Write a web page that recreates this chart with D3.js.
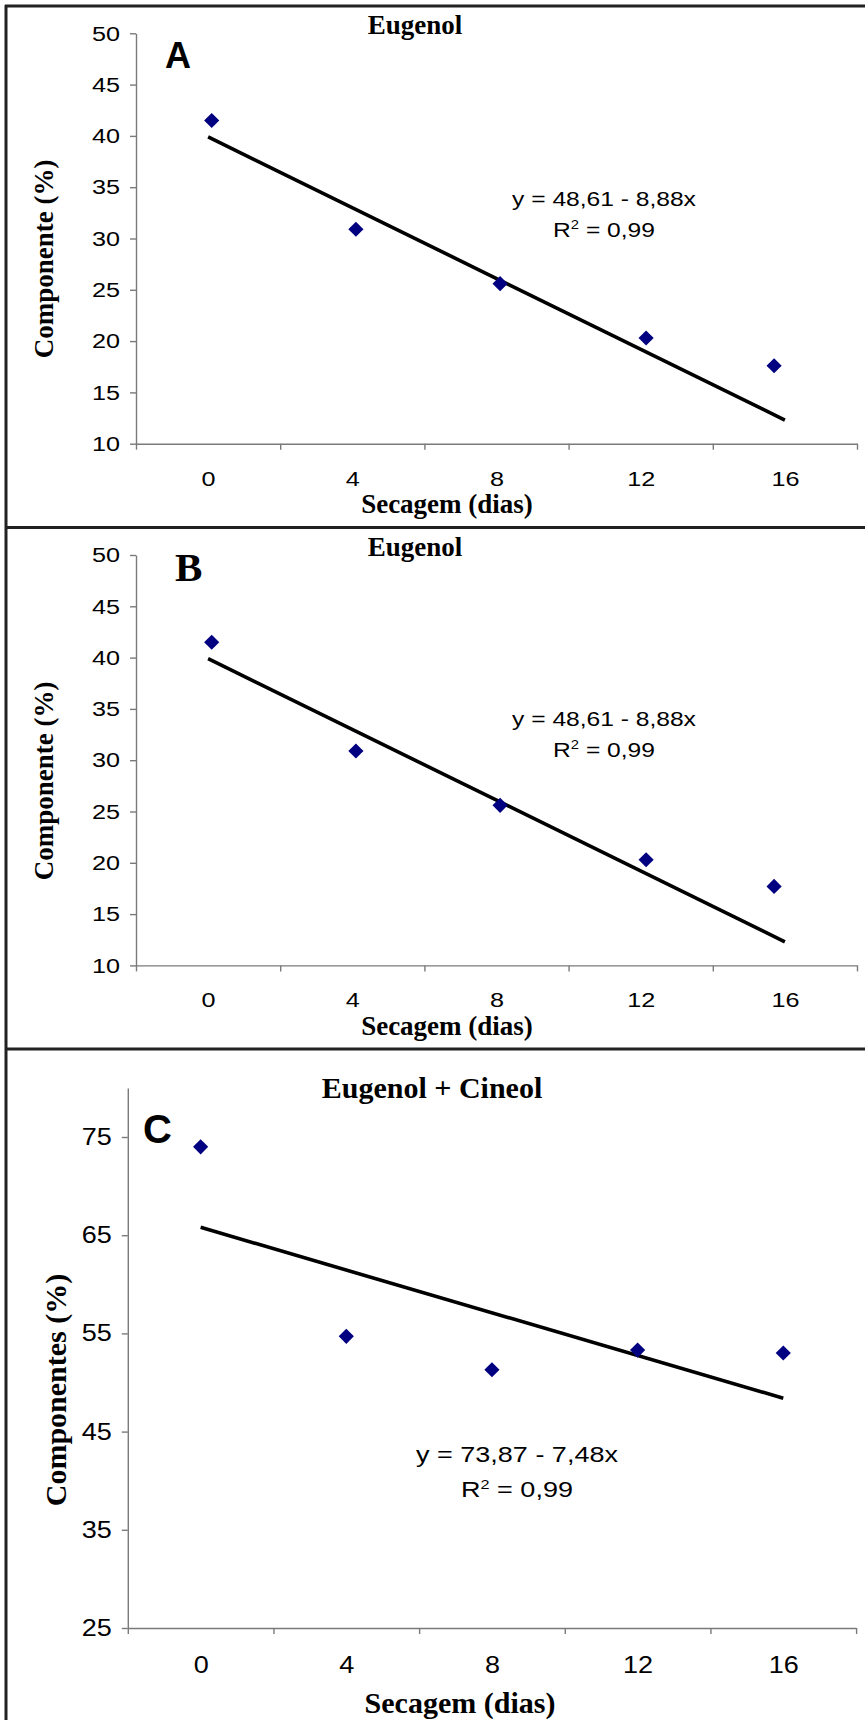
<!DOCTYPE html>
<html>
<head>
<meta charset="utf-8">
<script src="https://cdn.jsdelivr.net/npm/d3@7"></script>
<style>
  html, body { margin: 0; padding: 0; background: #fff; }
  svg { display: block; }
</style>
</head>
<body>
<div id="chart"></div>
<script>
// values
const dias = [0, 4, 8, 12, 16];
const diasLabels = ["0", "4", "8", "12", "16"];
// in A and B the markers sit a little off the category centres
const diasPlotAB = [0.1, 4.1, 8.1, 12.15, 15.7];
const eugenolA = [41.5, 30.9, 25.6, 20.3, 17.6];
const eugenolB = [41.5, 30.9, 25.6, 20.3, 17.7];
const eugenolCineol = [74.0, 54.7, 51.3, 53.3, 53.0];
const trendDias = [0, 16];
const trendA = [39.9, 12.3];
const trendB = [39.9, 12.3];
const trendC = [65.8, 48.4];
const yTicksAB = [10, 15, 20, 25, 30, 35, 40, 45, 50];
const yTicksC = [25, 35, 45, 55, 65, 75];
const xBounds = [-2, 2, 6, 10, 14, 18];

const W = 865, H = 1720;
const SANS = "'Liberation Sans', Arial, sans-serif";
const SERIF = "'Liberation Serif', 'Times New Roman', serif";
// the scanned figure has its Arial text a bit wider than normal
const SANS_STRETCH = 1.2;

const svg = d3.select("#chart").append("svg")
    .attr("width", W)
    .attr("height", H);

svg.append("rect").attr("width", W).attr("height", H).attr("fill", "#fff");

// widen text horizontally while keeping its anchor point
function stretch(sel, sx) {
    sel.each(function() {
        const t = d3.select(this);
        const x0 = +t.attr("x") || 0;
        t.attr("x", x0 / sx).attr("transform", `scale(${sx},1)`);
    });
}

const panels = [
    {
        letter: "A", letterFont: SANS, letterSize: 36, letterX: 165, letterY: 68,
        title: "Eugenol", titleSize: 27, titleX: 415, titleY: 34,
        left: 136, right: 857, top: 33.3, bottom: 443.7, yDomain: [10, 50],
        yTicks: yTicksAB, tickSize: 21, tickStretch: 1.2, xTickPad: 27,
        pointsX: diasPlotAB, values: eugenolA, trend: trendA,
        yTitle: "Componente (%)", yTitleX: 53, yTitleY: 259, axisTitleSize: 27,
        xTitleX: 447, xTitleY: 513,
        eq: "y = 48,61 - 8,88x", eqSize: 20.5, eqX: 604, eqY: 206, r2Y: 237
    },
    {
        letter: "B", letterFont: SERIF, letterSize: 41, letterX: 175, letterY: 581,
        title: "Eugenol", titleSize: 27, titleX: 415, titleY: 556,
        left: 136, right: 857, top: 555, bottom: 965.4, yDomain: [10, 50],
        yTicks: yTicksAB, tickSize: 21, tickStretch: 1.2, xTickPad: 27,
        pointsX: diasPlotAB, values: eugenolB, trend: trendB,
        yTitle: "Componente (%)", yTitleX: 53, yTitleY: 781, axisTitleSize: 27,
        xTitleX: 447, xTitleY: 1035,
        eq: "y = 48,61 - 8,88x", eqSize: 20.5, eqX: 604, eqY: 726, r2Y: 757
    },
    {
        letter: "C", letterFont: SANS, letterSize: 40, letterX: 143, letterY: 1143,
        title: "Eugenol + Cineol", titleSize: 30, titleX: 432, titleY: 1098,
        left: 127.8, right: 856.1, top: 1087.9, bottom: 1628, yDomain: [25, 80],
        yTicks: yTicksC, tickSize: 23.5, tickStretch: 1.15, xTickPad: 28,
        pointsX: dias, values: eugenolCineol, trend: trendC,
        yTitle: "Componentes (%)", yTitleX: 66, yTitleY: 1390, axisTitleSize: 30,
        xTitleX: 460, xTitleY: 1713,
        eq: "y = 73,87 - 7,48x", eqSize: 22.5, eqX: 517, eqY: 1462, r2Y: 1497
    }
];

function drawPanel(p) {
    const g = svg.append("g");
    const x = d3.scaleLinear().domain([-2, 18]).range([p.left, p.right]);
    const y = d3.scaleLinear().domain(p.yDomain).range([p.bottom, p.top]);

    // y axis
    g.append("g")
        .attr("transform", `translate(${p.left},0)`)
        .call(d3.axisLeft(y).tickValues(p.yTicks).tickSize(6).tickSizeOuter(0).tickPadding(10))
        .call(a => a.selectAll("text")
            .attr("font-size", p.tickSize).attr("font-family", SANS).attr("fill", "#000")
            .call(stretch, p.tickStretch));

    // x axis: ticks on the category boundaries, labels in the middle
    g.append("g")
        .attr("transform", `translate(0,${p.bottom})`)
        .call(d3.axisBottom(x).tickValues(xBounds).tickSize(6).tickSizeOuter(0).tickFormat(""));

    g.append("g")
        .attr("transform", `translate(0,${p.bottom})`)
        .call(d3.axisBottom(x).tickValues(dias).tickSize(0).tickPadding(p.xTickPad)
            .tickFormat((d, i) => diasLabels[i]))
        .call(a => a.select(".domain").remove())
        .call(a => a.selectAll("text")
            .attr("font-size", p.tickSize).attr("font-family", SANS).attr("fill", "#000")
            .call(stretch, p.tickStretch));

    g.selectAll(".domain, .tick line")
        .attr("stroke", "#7a7a7a")
        .attr("stroke-width", 1.4);

    // trend line
    const line = d3.line().x(d => x(d[0])).y(d => y(d[1]));
    g.append("path")
        .datum(trendDias.map((d, i) => [d, p.trend[i]]))
        .attr("d", line)
        .attr("fill", "none")
        .attr("stroke", "#000")
        .attr("stroke-width", 3.6);

    // markers
    const diamond = d3.symbol().type(d3.symbolSquare).size(115);
    g.selectAll(".pt")
        .data(p.values)
        .join("path")
        .attr("class", "pt")
        .attr("d", diamond)
        .attr("transform", (d, i) => `translate(${x(p.pointsX[i])},${y(d)}) rotate(45)`)
        .attr("fill", "#000080");

    // titles
    g.append("text")
        .attr("x", p.titleX).attr("y", p.titleY)
        .attr("text-anchor", "middle")
        .attr("font-family", SERIF).attr("font-weight", "bold")
        .attr("font-size", p.titleSize)
        .text(p.title);

    g.append("text")
        .attr("x", p.letterX).attr("y", p.letterY)
        .attr("font-family", p.letterFont).attr("font-weight", "bold")
        .attr("font-size", p.letterSize)
        .text(p.letter);

    g.append("text")
        .attr("transform", `translate(${p.yTitleX},${p.yTitleY}) rotate(-90)`)
        .attr("text-anchor", "middle")
        .attr("font-family", SERIF).attr("font-weight", "bold")
        .attr("font-size", p.axisTitleSize)
        .text(p.yTitle);

    g.append("text")
        .attr("x", p.xTitleX).attr("y", p.xTitleY)
        .attr("text-anchor", "middle")
        .attr("font-family", SERIF).attr("font-weight", "bold")
        .attr("font-size", p.axisTitleSize)
        .text("Secagem (dias)");

    // regression equation
    g.append("text")
        .attr("x", p.eqX).attr("y", p.eqY)
        .attr("text-anchor", "middle")
        .attr("font-family", SANS).attr("font-size", p.eqSize)
        .text(p.eq)
        .call(stretch, SANS_STRETCH);

    const r2 = g.append("text")
        .attr("x", p.eqX).attr("y", p.r2Y)
        .attr("text-anchor", "middle")
        .attr("font-family", SANS).attr("font-size", p.eqSize);
    r2.append("tspan").text("R");
    r2.append("tspan").attr("dy", -8).attr("font-size", p.eqSize * 0.6).text("2");
    r2.append("tspan").attr("dy", 8).text(" = 0,99");
    r2.call(stretch, SANS_STRETCH);
}

panels.forEach(drawPanel);

// frame lines around the stacked panels
const frame = [
    [5, 6, W, 6],
    [6, 5, 6, H],
    [5, 527.5, W, 527.5],
    [5, 1049, W, 1049]
];
svg.selectAll(".frame")
    .data(frame)
    .join("line")
    .attr("class", "frame")
    .attr("x1", d => d[0]).attr("y1", d => d[1])
    .attr("x2", d => d[2]).attr("y2", d => d[3])
    .attr("stroke", "#222")
    .attr("stroke-width", 3);
</script>
</body>
</html>
